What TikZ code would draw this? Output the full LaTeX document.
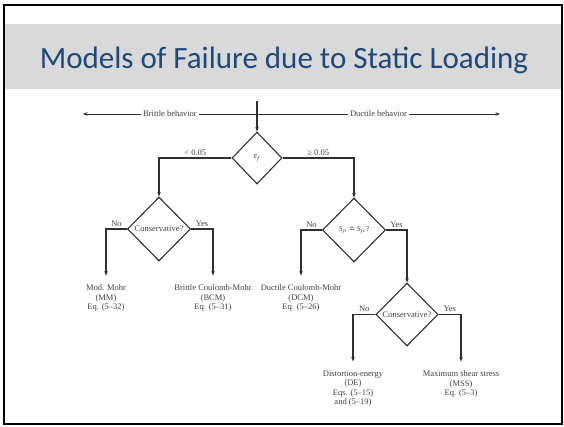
\documentclass[tikz,border=0pt]{standalone}
\usepackage{fontspec}
\setmainfont{Liberation Serif}
\newfontfamily\titlefont{Carlito}
\newfontfamily\symfont{DejaVu Serif}
\usetikzlibrary{shapes.geometric,arrows.meta}
\definecolor{titleblue}{HTML}{1F497D}
\definecolor{bandgray}{HTML}{D9D9D9}
\definecolor{ink}{HTML}{303030}
\begin{document}
\begin{tikzpicture}[x=1pt, y=-1pt, draw=ink, line width=1.1pt,
    >={Stealth[length=4.5pt, width=3.5pt]},
    test/.style={diamond, draw, inner sep=0pt, text=black!75,
      font=\fontsize{8.5}{9}\selectfont},
    result/.style={align=center, inner sep=0pt, outer ysep=9pt, text=black!75,
      font=\fontsize{8.5}{9.5}\selectfont},
    answer/.style={above, inner sep=2pt, text=black!75,
      font=\fontsize{8.5}{9}\selectfont},
    behavior/.style={fill=white, inner sep=2pt, text=black!75,
      font=\fontsize{8.5}{9}\selectfont}]%
    \useasboundingbox (0,0) rectangle (564,426);
    % slide frame and title band
    \fill[bandgray] (5,24) rectangle (562,89);
    \draw[black, line width=2pt] (4,4.5) rectangle (562,424);
    \node[anchor=base, text=titleblue, font=\titlefont\fontsize{31}{36}\selectfont]
      (title) at (284,68) {Models of Failure due to Static Loading};

    \coordinate (start) at (257,101);
    \coordinate (split) at (257,114);
    \coordinate (brittleend) at (83,114);
    \coordinate (ductileend) at (500,114);

    \node[test, minimum width=50pt, minimum height=52pt]
      (ef) at (257,158) {\textit{ε}\textsubscript{\textit{f}}};
    \node[test, minimum width=63pt, minimum height=64pt]
      (brittle) at (159,229) {Conservative?};
    \node[test, minimum width=63pt, minimum height=64pt, font=\fontsize{7.5}{8}\selectfont]
      (ductile) at (354,230)
      {\textit{S}\textsubscript{\textit{yt}} {\symfont ≐} \textit{S}\textsubscript{\textit{yc}}?};
    \node[test, minimum width=62pt, minimum height=63pt]
      (yield) at (407,314.5) {Conservative?};

    \node[result] (mm) at (106,298) {Mod. Mohr\\(MM)\\Eq. (5--32)};
    \node[result] (bcm) at (213,298) {Brittle Coulomb-Mohr\\(BCM)\\Eq. (5--31)};
    \node[result] (dcm) at (301,298) {Ductile Coulomb-Mohr\\(DCM)\\Eq. (5--26)};
    \node[result] (de) at (353,388.5) {Distortion-energy\\(DE)\\Eqs. (5--15)\\and (5--19)};
    \node[result] (mss) at (461,384) {Maximum shear stress\\(MSS)\\Eq. (5--3)};

    \draw[->, line width=0.5pt] (split) -- node[behavior] {Brittle behavior} (brittleend);
    \draw[->, line width=0.5pt] (split) -- node[behavior] {Ductile behavior} (ductileend);
    \draw[->] (start) -- (ef.north);

    \draw[->] (ef.west) -| node[answer, pos=.25] {< 0.05} (brittle.north);
    \draw[->] (ef.east) -| node[answer, pos=.25] {≥ 0.05} (ductile.north);
    \draw[->] (brittle.west) -| node[answer, pos=.25] {No} (mm.north);
    \draw[->] (brittle.east) -| node[answer, pos=.25] {Yes} (bcm.north);
    \draw[->] (ductile.west) -| node[answer, pos=.25] {No} (dcm.north);
    \draw[->] (ductile.east) -| node[answer, pos=.25] {Yes} (yield.north);
    \draw[->] (yield.west) -| node[answer, pos=.25] {No} (de.north);
    \draw[->] (yield.east) -| node[answer, pos=.25] {Yes} (mss.north);
  \end{tikzpicture}
\end{document}
